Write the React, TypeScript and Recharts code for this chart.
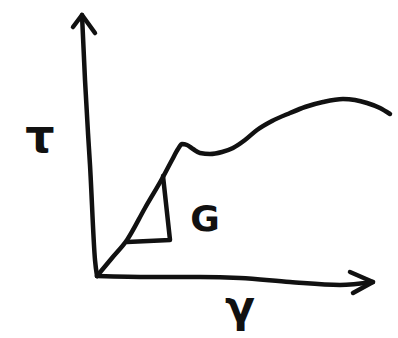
import React from 'react';
import { LineChart, Line, XAxis, YAxis, ReferenceDot } from 'recharts';

// Hand-sketched shear stress (tau) vs shear strain (gamma) curve.
// Units are arbitrary sketch units, origin at the corner of the axes.

// Stress–strain curve: linear elastic rise, small yield drop, hardening hump
const strain = [0, 15, 30, 48, 66, 75, 81, 85, 90, 96, 103, 113, 125, 136, 148, 160, 175, 193, 208, 226, 246, 258, 270, 283, 293];
const stress = [0, 18, 36, 68, 99, 116, 127, 132, 131, 127, 123, 122, 124, 128, 136, 146, 155, 163, 169, 174, 177, 176, 173, 168, 162];

// Hand-drawn axes (slightly tilted strokes) with arrowheads
const tauAxisX = [0, -2, -7, -9, -12, -15];
const tauAxisY = [0, 16, 111, 143, 196, 261];
const tauArrowX = [-24, -15, -2];
const tauArrowY = [249, 261, 243];
const gammaAxisX = [0, 53, 103, 143, 193, 243, 276];
const gammaAxisY = [0, -1, -1, -2, -6, -9, -6];
const gammaArrowX = [253, 276, 256];
const gammaArrowY = [4, -6, -17];

// Slope triangle marking the shear modulus G
const triX = [66, 73, 30];
const triY = [100, 36, 34];

const zip = (xs: number[], ys: number[]) => xs.map((x, i) => ({ x, y: ys[i] }));

const curve = zip(strain, stress);
const tauAxis = zip(tauAxisX, tauAxisY);
const tauArrow = zip(tauArrowX, tauArrowY);
const gammaAxis = zip(gammaAxisX, gammaAxisY);
const gammaArrow = zip(gammaArrowX, gammaArrowY);
const triangle = zip(triX, triY);

const ink = '#111';
const pen = 4.5;

const strokeProps = {
  dataKey: 'y',
  stroke: ink,
  strokeWidth: pen,
  dot: false,
  activeDot: false,
  isAnimationActive: false,
  strokeLinecap: 'round' as const,
  strokeLinejoin: 'round' as const,
};

const labelFont = {
  fill: ink,
  fontFamily: 'DejaVu Sans, sans-serif',
  fontWeight: 700,
};

export default function App() {
  return (
    <div style={{ position: 'absolute', left: 0, top: 0, background: '#fff' }}>
      <LineChart width={398} height={338} margin={{ top: 0, right: 0, bottom: 0, left: 0 }}>
        <XAxis type="number" dataKey="x" domain={[-97, 301]} hide allowDataOverflow />
        <YAxis type="number" dataKey="y" domain={[-62, 276]} hide allowDataOverflow />
        <Line data={tauAxis} type="monotone" {...strokeProps} />
        <Line data={tauArrow} type="linear" {...strokeProps} />
        <Line data={gammaAxis} type="monotone" {...strokeProps} />
        <Line data={gammaArrow} type="linear" {...strokeProps} />
        <Line data={triangle} type="linear" {...strokeProps} />
        <Line data={curve} type="monotone" {...strokeProps} />
        <ReferenceDot x={-57} y={140} r={0} ifOverflow="visible"
          label={{ value: 'τ', position: 'center', fontSize: 46, ...labelFont }} />
        <ReferenceDot x={108} y={58} r={0} ifOverflow="visible"
          label={{ value: 'G', position: 'center', fontSize: 36, ...labelFont }} />
        <ReferenceDot x={143} y={-30} r={0} ifOverflow="visible"
          label={{ value: 'γ', position: 'center', fontSize: 44, ...labelFont }} />
      </LineChart>
    </div>
  );
}
